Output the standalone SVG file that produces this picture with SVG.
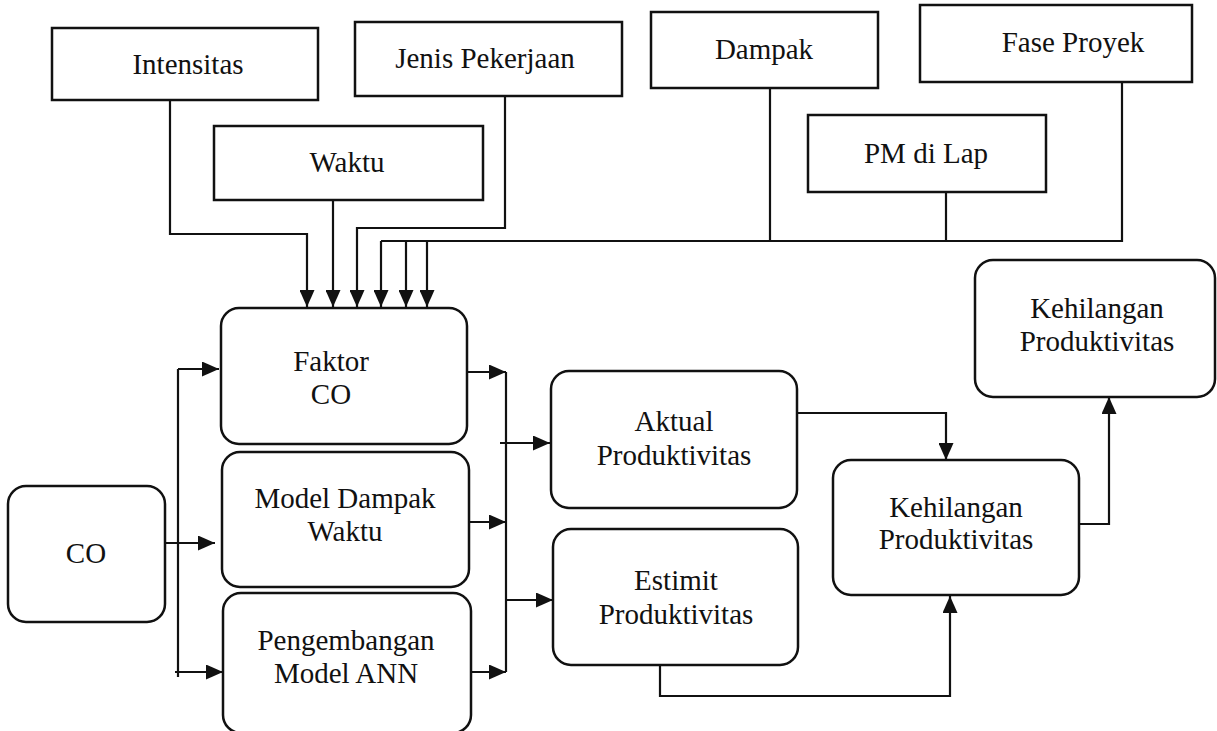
<svg xmlns="http://www.w3.org/2000/svg" width="1217" height="731" viewBox="0 0 1217 731" font-family="Liberation Serif, Times New Roman, serif">
<defs>
<style>
.box{fill:#fff;stroke:#111;stroke-width:2.5}
.ln{fill:none;stroke:#111;stroke-width:2.2}
.arr{marker-end:url(#ah)}
.t{font-size:29px;fill:#111;text-anchor:middle}
</style>
<marker id="ah" markerWidth="17" markerHeight="15" refX="17" refY="7.5" orient="auto" markerUnits="userSpaceOnUse">
<path d="M0,0 L17,7.5 L0,15 z" fill="#111"/>
</marker>
</defs>
<rect width="1217" height="731" fill="#fff"/>

<g id="connectors">
<polyline class="ln arr" points="170,100 170,234 307,234 307,307"/>
<polyline class="ln arr" points="333,200 333,307"/>
<polyline class="ln arr" points="505,96 505,228 357,228 357,307"/>
<polyline class="ln" points="1122,82 1122,241 381,241"/>
<polyline class="ln" points="770,88 770,241"/>
<polyline class="ln" points="946,192 946,241"/>
<polyline class="ln arr" points="381,241 381,307"/>
<polyline class="ln arr" points="406,241 406,307"/>
<polyline class="ln arr" points="427,241 427,307"/>
<polyline class="ln" points="178,369 178,677"/>
<polyline class="ln arr" points="178,369 219,369"/>
<polyline class="ln arr" points="165,543 215,543"/>
<polyline class="ln arr" points="175,672 223,672"/>
<polyline class="ln" points="506,372 506,672"/>
<polyline class="ln arr" points="467,372 506,372"/>
<polyline class="ln arr" points="469,522 506,522"/>
<polyline class="ln arr" points="472,672 506,672"/>
<polyline class="ln arr" points="500,443 550,443"/>
<polyline class="ln arr" points="506,600 553,600"/>
<polyline class="ln arr" points="797,413 946,413 946,460"/>
<polyline class="ln arr" points="660,665 660,696 950,696 950,596"/>
<polyline class="ln arr" points="1080,524 1109,524 1109,397"/>
</g>

<g id="intensitas"><rect class="box" x="52" y="28" width="266" height="72"/><text class="t" x="188" y="74" font-family="Liberation Serif, serif">Intensitas</text></g>
<g id="jenis-pekerjaan"><rect class="box" x="355" y="22" width="267" height="74"/><text class="t" x="485" y="68">Jenis Pekerjaan</text></g>
<g id="waktu"><rect class="box" x="214" y="126" width="269" height="74"/><text class="t" x="347" y="172">Waktu</text></g>
<g id="dampak"><rect class="box" x="651" y="12" width="227" height="76"/><text class="t" x="764" y="59">Dampak</text></g>
<g id="fase-proyek"><rect class="box" x="920" y="5" width="272" height="77"/><text class="t" x="1073" y="52">Fase Proyek</text></g>
<g id="pm-di-lap"><rect class="box" x="808" y="115" width="238" height="77"/><text class="t" x="926" y="163">PM di Lap</text></g>

<g id="faktor-co"><rect class="box" x="221" y="308" width="246" height="136" rx="18"/><text class="t" x="331" y="371">Faktor</text><text class="t" x="331" y="404">CO</text></g>
<g id="model-dampak-waktu"><rect class="box" x="222" y="452" width="247" height="135" rx="18"/><text class="t" x="345" y="508">Model Dampak</text><text class="t" x="345" y="541">Waktu</text></g>
<g id="pengembangan-model-ann"><rect class="box" x="223" y="593" width="248" height="140" rx="18"/><text class="t" x="346" y="650">Pengembangan</text><text class="t" x="346" y="683">Model ANN</text></g>
<g id="co"><rect class="box" x="8" y="486" width="157" height="136" rx="18"/><text class="t" x="86" y="563">CO</text></g>

<g id="aktual-produktivitas"><rect class="box" x="551" y="371" width="246" height="137" rx="18"/><text class="t" x="674" y="431">Aktual</text><text class="t" x="674" y="465">Produktivitas</text></g>
<g id="estimit-produktivitas"><rect class="box" x="553" y="529" width="245" height="136" rx="18"/><text class="t" x="676" y="590">Estimit</text><text class="t" x="676" y="624">Produktivitas</text></g>
<g id="kehilangan-produktivitas-1"><rect class="box" x="833" y="460" width="246" height="135" rx="18"/><text class="t" x="956" y="517">Kehilangan</text><text class="t" x="956" y="549">Produktivitas</text></g>
<g id="kehilangan-produktivitas-2"><rect class="box" x="975" y="260" width="240" height="137" rx="18"/><text class="t" x="1097" y="318">Kehilangan</text><text class="t" x="1097" y="351">Produktivitas</text></g>
</svg>
